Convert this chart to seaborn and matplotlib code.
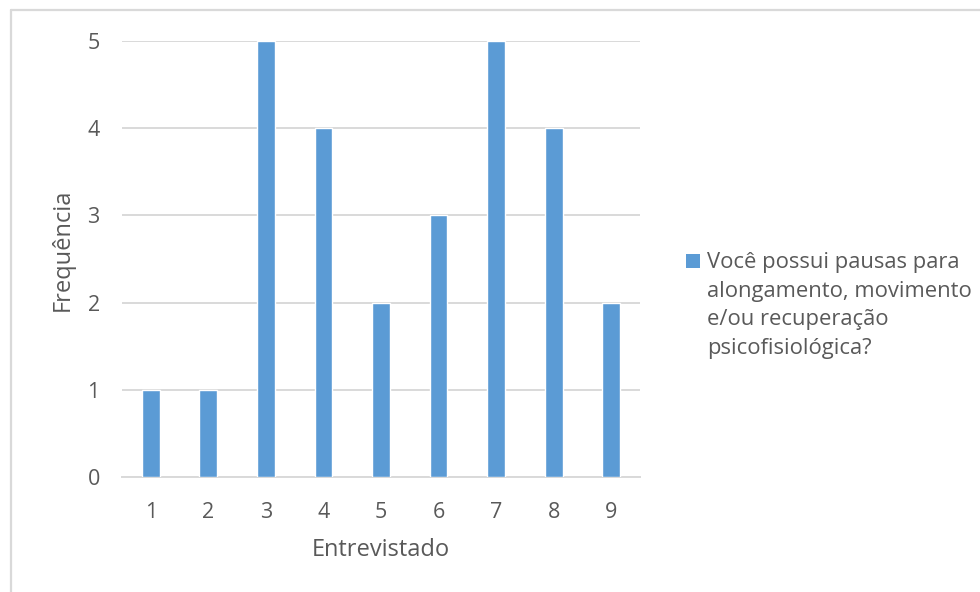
import matplotlib
matplotlib.use("Agg")
import matplotlib.pyplot as plt
from matplotlib.lines import Line2D
from matplotlib.patches import Patch, Rectangle
from matplotlib.legend_handler import HandlerPatch
import seaborn as sns
import pandas as pd

# Survey answers per interviewee
entrevistados = ["1", "2", "3", "4", "5", "6", "7", "8", "9"]
frequencias = [1, 1, 5, 4, 2, 3, 5, 4, 2]
serie = "Você possui pausas para\nalongamento, movimento\ne/ou recuperação\npsicofisiológica?"
yticks = [0, 1, 2, 3, 4, 5]

BAR = "#5B9BD5"
GRID = "#D9D9D9"
TXT = "#595959"

sns.set_theme(style="white")
plt.rcParams["font.family"] = ["Open Sans", "DejaVu Sans"]

df = pd.DataFrame({"Entrevistado": entrevistados, "Frequência": frequencias})

fig = plt.figure(figsize=(9.8, 5.92), dpi=100)
ax = fig.add_axes([122 / 980, 1 - 477 / 592, (640 - 122) / 980, (477 - 41) / 592])

sns.barplot(data=df, x="Entrevistado", y="Frequência", color=BAR,
            width=0.31, saturation=1, ax=ax, zorder=3)

ax.set_xlim(-0.5, len(entrevistados) - 0.5)
ax.set_ylim(0, 5)
ax.set_yticks(yticks)
ax.yaxis.grid(True, color=GRID, linewidth=1.4, zorder=0)
ax.set_axisbelow(True)
for s in ["top", "right", "left"]:
    ax.spines[s].set_visible(False)
ax.spines["bottom"].set_color(GRID)
ax.spines["bottom"].set_linewidth(1.4)
ax.tick_params(axis="both", length=0, labelsize=15.5, labelcolor=TXT)
ax.tick_params(axis="y", pad=16)
ax.tick_params(axis="x", pad=18)
ax.set_xlabel("Entrevistado", fontsize=17, color=TXT)
ax.set_ylabel("Frequência", fontsize=17, color=TXT)
ax.xaxis.set_label_coords(0.5, -(550 - 477) / (477 - 41), transform=ax.transAxes)
ax.xaxis.label.set_va("center")
ax.yaxis.set_label_coords(-(122 - 63) / (640 - 122), (477 - 250) / (477 - 41))
ax.yaxis.label.set_va("center")

N_LINES = serie.count("\n") + 1
LINESPACING = 1.48


# Legend key sits beside the first line of the wrapped label
def top_square(legend, orig_handle, xdescent, ydescent, width, height, fontsize):
    s = 0.62 * fontsize
    step = 0.924 * LINESPACING * fontsize
    lift = (N_LINES - 1) / 2 * step - s / 2
    return Rectangle((-xdescent, -ydescent + height / 2 + lift), s, s)


handle = Patch(facecolor=BAR, edgecolor="none")
leg = fig.legend([handle], [serie], loc="upper left",
                 bbox_to_anchor=(686 / 980, 1 - 252 / 592), frameon=False,
                 fontsize=15.8, labelcolor=TXT, handlelength=0.62, handleheight=0.62,
                 handletextpad=0.35, borderaxespad=0, borderpad=0,
                 handler_map={Patch: HandlerPatch(patch_func=top_square)})
for t in leg.get_texts():
    t.set_linespacing(LINESPACING)

# Chart area frame (left and top edges visible)
fig.add_artist(Line2D([11 / 980, 11 / 980], [0, 1 - 10 / 592],
                      transform=fig.transFigure, color=GRID, linewidth=1.6))
fig.add_artist(Line2D([11 / 980, 1], [1 - 10 / 592, 1 - 10 / 592],
                      transform=fig.transFigure, color=GRID, linewidth=1.6))

fig.savefig("out.png", dpi=100, facecolor="white")
